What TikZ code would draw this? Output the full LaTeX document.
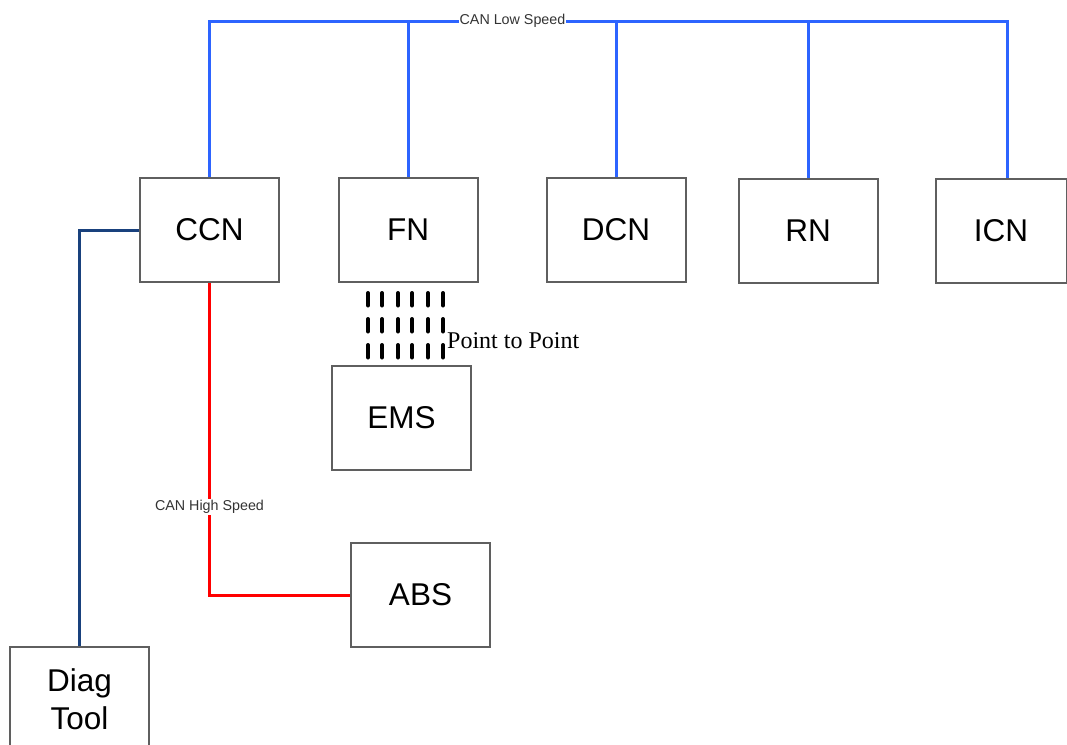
\documentclass[tikz,border=0pt]{standalone}
\usepackage{fontspec}
\setmainfont{Liberation Sans}
\newfontfamily\serifp{Liberation Serif}
\definecolor{busblue}{RGB}{45,100,255}
\definecolor{diagblue}{RGB}{25,65,125}
\definecolor{boxgray}{RGB}{95,95,95}
\begin{document}
\begin{tikzpicture}[x=1pt,y=-1pt,
  box/.style={draw=boxgray,line width=2pt,minimum width=139pt,minimum height=104pt,inner sep=0pt,
    font=\fontsize{31.5}{38}\selectfont,align=center},
  bus/.style={draw=busblue,line width=3pt},
  canhs/.style={draw=red,line width=3pt},
  diagline/.style={draw=diagblue,line width=3pt},
  p2p/.style={draw=black,line width=4pt,line cap=round,dash pattern=on 12.5pt off 13.5pt},
  buslabel/.style={fill=white,inner sep=1pt,font=\fontsize{14.3}{16}\selectfont,text=black!80}
]
\useasboundingbox (0,0) rectangle (1067,744);
\fill[white] (0,0) rectangle (1067,744);

% nodes
\node[box] (ccn) at (209.5,230) {CCN};
\node[box] (fn)  at (408,230) {FN};
\node[box] (dcn) at (616,229.5) {DCN};
\node[box] (rn)  at (808,231) {RN};
\node[box,minimum width=131pt] (icn) at (1001,230.5) {ICN};
\node[box] (ems) at (401.5,418) {EMS};
\node[box] (abs) at (420.5,595) {ABS};
\node[box] (diag) at (79.5,699) {Diag\\Tool};

\coordinate (busL) at (209.5,21);
\coordinate (busR) at (1007,21);

% CAN low speed bus
\draw[bus] (ccn.north) -- (ccn.north |- busL) -- (busR) -- (busR |- icn.north);
\draw[bus] (fn.north) -- (fn.north |- busL);
\draw[bus] (dcn.north) -- (dcn.north |- busL);
\draw[bus] (rn.north) -- (rn.north |- busL);
\node[buslabel] (lslabel) at (512.5,21) {CAN Low Speed};

% CAN high speed
\draw[canhs] (ccn.south) |- (abs.west);
\node[buslabel] (hslabel) at (209.5,507) {CAN High Speed};

% diag tool line
\draw[diagline] (ccn.west) -| (diag.north);

% point to point
\foreach \d in {-40,-26,-10,4,20,35}{
  \draw[p2p] ([xshift=\d pt,yshift=-10pt]fn.south) -- ++(0,68);
}
\node[anchor=west,inner sep=0pt,font=\serifp\fontsize{24}{28}\selectfont] (p2plabel) at (447,341) {Point to Point};
\end{tikzpicture}
\end{document}
